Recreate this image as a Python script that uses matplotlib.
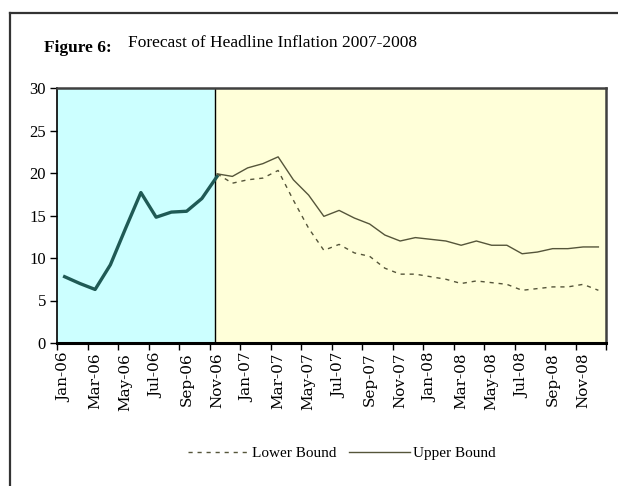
import numpy as np
import matplotlib
matplotlib.use("Agg")
import matplotlib.pyplot as plt
from matplotlib.lines import Line2D

# monthly categories Jan-06 .. Dec-08
months = ["Jan", "Feb", "Mar", "Apr", "May", "Jun", "Jul", "Aug", "Sep", "Oct", "Nov", "Dec"]
years = ["06", "07", "08"]
labels = [m + "-" + y for y in years for m in months]

# actual headline inflation, Jan-06 .. Nov-06
actual = [7.8, 7.0, 6.3, 9.2, 13.5, 17.7, 14.8, 15.4, 15.5, 17.0, 19.6]
# forecast bounds, Nov-06 .. Dec-08
upper = [19.9, 19.6, 20.6, 21.1, 21.9, 19.2, 17.4, 14.9, 15.6, 14.7, 14.0, 12.7, 12.0,
         12.4, 12.2, 12.0, 11.5, 12.0, 11.5, 11.5, 10.5, 10.7, 11.1, 11.1, 11.3, 11.3]
lower = [19.9, 18.8, 19.2, 19.4, 20.3, 16.8, 13.5, 10.9, 11.6, 10.6, 10.2, 8.8, 8.1,
         8.1, 7.8, 7.5, 7.0, 7.3, 7.1, 6.9, 6.2, 6.4, 6.6, 6.6, 6.9, 6.2]

x_all = np.arange(len(labels))
x_act = x_all[:len(actual)]
x_fc = x_all[len(actual) - 1:]
split = 9.85

serif = "Liberation Serif"

fig = plt.figure(figsize=(6.18, 4.86), dpi=100)
fig.patch.set_facecolor("white")
ax = fig.add_axes([57 / 618, 1 - 343 / 486, (606 - 57) / 618, (343 - 88) / 486])

ax.axvspan(-0.5, split, color="#ccffff", zorder=0)
ax.axvspan(split, 35.5, color="#ffffd9", zorder=0)
ax.axvline(split, color="black", lw=1.0, zorder=1)

ax.plot(x_act, actual, color="#1f5a55", lw=2.4, zorder=3)
ax.plot(x_fc, upper, color="#55553a", lw=1.0, zorder=3, label="Upper Bound")
ax.plot(x_fc, lower, color="#55553a", lw=1.0, ls=(0, (3, 3.5)), zorder=3, label="Lower Bound")

ax.set_xlim(-0.5, 35.5)
ax.set_ylim(0, 30)
ax.set_yticks(range(0, 31, 5))
ax.tick_params(axis="y", direction="out", length=5, width=1, pad=3)
for t in ax.get_yticklabels():
    t.set_fontfamily(serif)
    t.set_fontsize(12)

ax.set_xticks(x_all[::2])
ax.set_xticklabels(labels[::2], rotation=90, fontfamily="DejaVu Serif", fontsize=11)
ax.tick_params(axis="x", which="major", length=0, pad=7)
ax.set_xticks(np.arange(-0.5, 36, 2), minor=True)
ax.tick_params(axis="x", which="minor", direction="out", length=5, width=1)

for side in ["top", "right"]:
    ax.spines[side].set_color("#404040")
    ax.spines[side].set_linewidth(1.8)
ax.spines["left"].set_linewidth(1.2)
ax.spines["bottom"].set_linewidth(2.2)

# legend: lower bound first, then upper bound
h, l = ax.get_legend_handles_labels()
leg = fig.legend(h[::-1], l[::-1], loc="center", bbox_to_anchor=(342 / 618, 1 - 453 / 486),
                 ncol=2, frameon=False, handlelength=4.0, handletextpad=0.2,
                 columnspacing=0.8, prop={"family": serif, "size": 11})

fig.text(44 / 618, 1 - 48 / 486, "Figure 6:", fontfamily=serif, fontweight="bold",
         fontsize=12.5, va="center", ha="left")
fig.text(272 / 618, 1 - 43 / 486, "Forecast of Headline Inflation 2007-2008",
         fontfamily=serif, fontsize=12.5, va="center", ha="center")

# outer frame of the figure box
fig.add_artist(Line2D([10 / 618, 10 / 618], [0, 1 - 13 / 486], color="#333333", lw=1.6))
fig.add_artist(Line2D([10 / 618, 1], [1 - 13 / 486, 1 - 13 / 486], color="#333333", lw=1.6))

fig.savefig("out.png", dpi=100)
